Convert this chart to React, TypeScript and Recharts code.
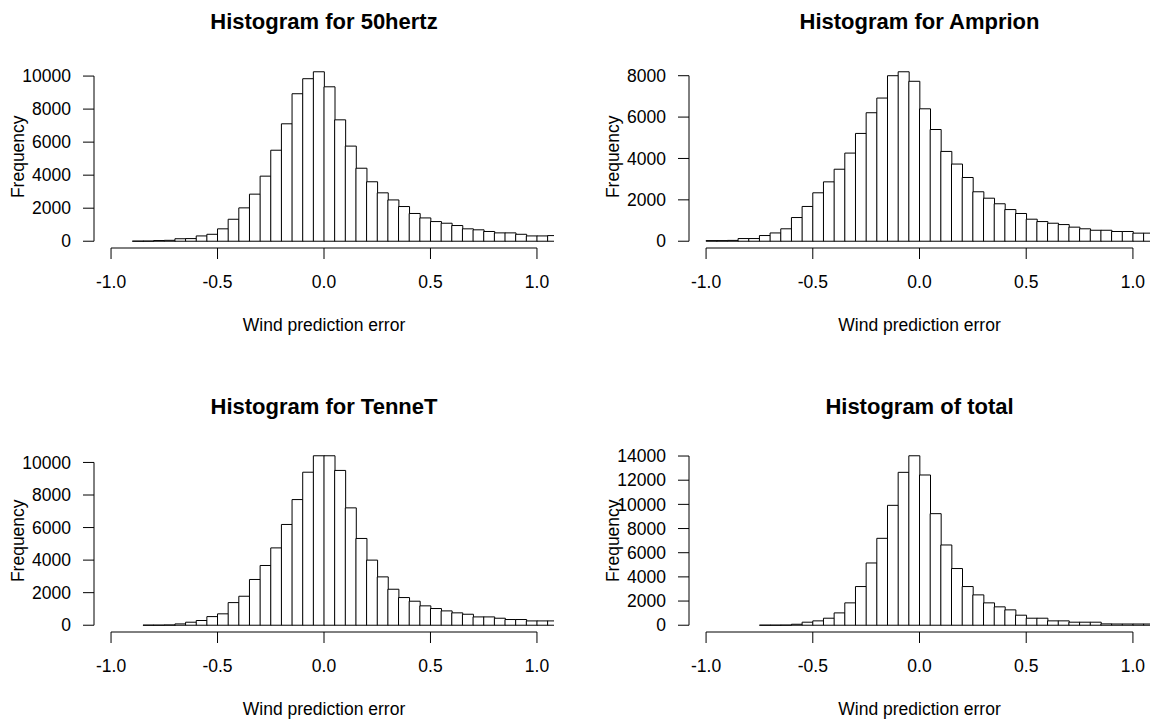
import { Bar, BarChart, ReferenceLine, XAxis, YAxis } from "recharts";

// all histograms share 0.05 wide bins and an x range of -1..1 (R pads it by 4%)
const BIN_WIDTH = 0.05;
const X_TICKS = [-1, -0.5, 0, 0.5, 1];
const X_DOMAIN: [number, number] = [-1.08, 1.08];

const hertzStart = -0.9;
const hertzCounts = [
  5, 8, 40, 55, 150, 160, 320, 420, 750, 1330, 2020, 2850, 3940, 5510, 7110, 8930, 9840, 10260,
  9350, 7350, 5760, 4420, 3600, 2930, 2500, 2100, 1680, 1410, 1190, 1090, 950, 750, 690, 590, 505,
  505, 420, 320, 320, 340
];
const hertzTicks = [0, 2000, 4000, 6000, 8000, 10000];

const amprionStart = -1.0;
const amprionCounts = [
  30, 30, 40, 130, 130, 275, 400, 600, 1145, 1680, 2340, 2870, 3480, 4260, 5210, 6210, 6920, 8000,
  8190, 7730, 6400, 5400, 4340, 3730, 3080, 2390, 2080, 1810, 1530, 1340, 1065, 950, 870, 805, 680,
  600, 530, 530, 470, 470, 390, 390
];
const amprionTicks = [0, 2000, 4000, 6000, 8000];

const tennetStart = -0.85;
const tennetCounts = [
  5, 5, 15, 80, 185, 290, 530, 700, 1390, 1780, 2810, 3670, 4750, 6190, 7720, 9400, 10410, 10410,
  9510, 7210, 5330, 4000, 2970, 2210, 1700, 1475, 1190, 1025, 880, 760, 675, 510, 510, 430, 350,
  350, 265, 265, 265
];
const tennetTicks = [0, 2000, 4000, 6000, 8000, 10000];

const totalStart = -0.75;
const totalCounts = [
  5, 5, 10, 80, 250, 360, 580, 1020, 1850, 3200, 5150, 7190, 9920, 12650, 14020, 12430, 9230, 6640,
  4690, 3200, 2510, 1850, 1520, 1270, 830, 580, 580, 360, 360, 250, 250, 250, 110, 100, 100, 100, 100
];
const totalTicks = [0, 2000, 4000, 6000, 8000, 10000, 12000, 14000];

const FONT = "'Liberation Sans', Arial, Helvetica, sans-serif";
const W = 578;
const H = 385;
const PLOT_H = 183;
const X_AXIS_H = 60;

const toBins = (start: number, counts: number[]) =>
  counts.map((count, i) => ({ mid: +(start + (i + 0.5) * BIN_WIDTH).toFixed(3), count }));

interface PanelProps {
  title: string;
  start: number;
  counts: number[];
  yTicks: number[];
  left: number;
  top: number;
  axisWidth: number;
  rightGap: number;
  plotTop: number;
}

const Panel = ({ title, start, counts, yTicks, left, top, axisWidth, rightGap, plotTop }: PanelProps) => {
  const data = toBins(start, counts);
  const max = Math.max(...counts);
  const yMin = -0.04 * max;
  const plotW = W - axisWidth - rightGap;
  const plotBottom = plotTop + PLOT_H;
  const tickStyle = { fill: "#000", fontSize: 17.5, fontFamily: FONT };

  return (
    <div style={{ position: "absolute", left, top, width: W, height: H }}>
      <BarChart
        width={W}
        height={H}
        data={data}
        barCategoryGap={0}
        margin={{ top: plotTop, right: rightGap, bottom: H - plotBottom - X_AXIS_H, left: 0 }}
      >
        <XAxis
          type="number"
          dataKey="mid"
          domain={X_DOMAIN}
          allowDataOverflow
          ticks={X_TICKS}
          interval={0}
          tickFormatter={(v: number) => v.toFixed(1)}
          axisLine={false}
          tickSize={11}
          tickMargin={17}
          tickLine={{ stroke: "#000" }}
          tick={tickStyle}
          height={X_AXIS_H}
        />
        <YAxis
          type="number"
          domain={[yMin, 1.04 * max]}
          ticks={yTicks}
          interval={0}
          width={axisWidth}
          axisLine={false}
          tickSize={11}
          tickMargin={12}
          tickLine={{ stroke: "#000" }}
          tick={tickStyle}
        />
        <Bar dataKey="count" fill="#fff" stroke="#000" strokeWidth={1} isAnimationActive={false} />
        <ReferenceLine
          segment={[{ x: -1, y: yMin }, { x: 1, y: yMin }]}
          stroke="#000"
          ifOverflow="visible"
        />
        <ReferenceLine
          segment={[{ x: X_DOMAIN[0], y: 0 }, { x: X_DOMAIN[0], y: yTicks[yTicks.length - 1] }]}
          stroke="#000"
          ifOverflow="visible"
        />
      </BarChart>
      <div
        style={{
          position: "absolute",
          left: axisWidth,
          top: 11,
          width: plotW,
          textAlign: "center",
          fontFamily: FONT,
          fontWeight: "bold",
          fontSize: 22,
          lineHeight: "22px",
          whiteSpace: "nowrap"
        }}
      >
        {title}
      </div>
      <div
        style={{
          position: "absolute",
          left: axisWidth - 175,
          top: plotTop + PLOT_H / 2 - 8.75,
          width: 200,
          textAlign: "center",
          fontFamily: FONT,
          fontSize: 17.5,
          lineHeight: "17.5px",
          transform: "rotate(-90deg)"
        }}
      >
        Frequency
      </div>
      <div
        style={{
          position: "absolute",
          left: axisWidth,
          top: plotBottom + 69,
          width: plotW,
          textAlign: "center",
          fontFamily: FONT,
          fontSize: 17.5,
          lineHeight: "17.5px",
          whiteSpace: "nowrap"
        }}
      >
        Wind prediction error
      </div>
    </div>
  );
};

export default function App() {
  return (
    <div
      style={{
        position: "absolute",
        left: 0,
        top: 0,
        width: 1156,
        height: 720,
        overflow: "hidden",
        background: "#fff"
      }}
    >
      <Panel title="Histogram for 50hertz" start={hertzStart} counts={hertzCounts} yTicks={hertzTicks}
        left={0} top={0} axisWidth={94} rightGap={24} plotTop={65} />
      <Panel title="Histogram for Amprion" start={amprionStart} counts={amprionCounts} yTicks={amprionTicks}
        left={578} top={0} axisWidth={111} rightGap={6} plotTop={65} />
      <Panel title="Histogram for TenneT" start={tennetStart} counts={tennetCounts} yTicks={tennetTicks}
        left={0} top={385} axisWidth={94} rightGap={24} plotTop={64} />
      <Panel title="Histogram of total" start={totalStart} counts={totalCounts} yTicks={totalTicks}
        left={578} top={385} axisWidth={111} rightGap={6} plotTop={64} />
    </div>
  );
}
